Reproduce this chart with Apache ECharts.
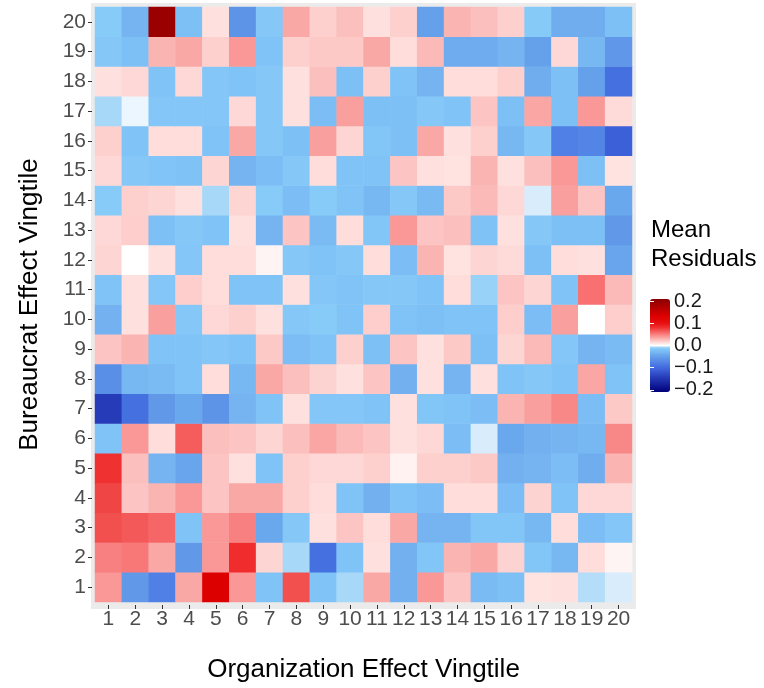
<!DOCTYPE html>
<html>
<head>
<meta charset="utf-8">
<script src="https://cdn.jsdelivr.net/npm/echarts@6/dist/echarts.min.js"></script>
<style>
  html, body { margin: 0; padding: 0; background: #ffffff; }
  #chart { width: 764px; height: 688px; }
</style>
</head>
<body>
<div id="chart"></div>
<script>
// Vingtile labels for both axes
const organizationVingtiles = ['1','2','3','4','5','6','7','8','9','10','11','12','13','14','15','16','17','18','19','20'];
const bureaucratVingtiles = ['1','2','3','4','5','6','7','8','9','10','11','12','13','14','15','16','17','18','19','20'];

// Mean residuals: one row per bureaucrat vingtile (1..20), one value per organization vingtile (1..20)
const row01 = [0.041,-0.056,-0.080,0.034,0.132,0.041,-0.019,0.069,-0.019,-0.008,0.034,-0.036,0.041,0.023,-0.027,-0.022,0.011,0.012,-0.007,-0.004];
const row02 = [0.050,0.053,0.034,-0.056,0.041,0.083,0.016,-0.008,-0.095,-0.019,0.012,-0.036,-0.017,0.030,0.034,0.017,-0.017,-0.030,0.013,0.004];
const row03 = [0.069,0.065,0.060,-0.019,0.041,0.050,-0.042,-0.014,0.012,0.023,0.013,0.034,-0.033,-0.033,-0.017,-0.017,-0.030,0.013,-0.025,-0.016];
const row04 = [0.073,0.023,0.030,0.041,0.023,0.034,0.034,0.018,0.013,-0.019,-0.036,-0.019,-0.025,0.013,0.013,-0.025,0.017,-0.019,0.015,0.015];
const row05 = [0.081,0.025,-0.033,-0.045,0.023,0.012,-0.019,0.018,0.015,0.015,0.018,0.005,0.018,0.018,0.021,-0.036,-0.033,-0.025,-0.038,0.030];
const row06 = [-0.019,0.041,0.013,0.064,0.025,0.023,0.016,0.025,0.035,0.028,0.023,0.012,0.015,-0.025,-0.004,-0.042,-0.036,-0.033,-0.030,0.047];
const row07 = [-0.145,-0.095,-0.056,-0.042,-0.060,-0.033,-0.019,0.012,-0.016,-0.016,-0.019,0.012,-0.017,-0.019,-0.025,0.030,0.038,0.047,-0.025,0.021];
const row08 = [-0.065,-0.030,-0.027,-0.019,0.013,-0.030,0.034,0.025,0.017,0.012,0.023,-0.036,0.012,-0.033,0.012,-0.019,-0.014,-0.019,0.035,-0.019];
const row09 = [0.023,0.030,-0.019,-0.019,-0.016,-0.019,0.021,-0.025,-0.019,0.018,-0.022,0.023,0.012,0.021,-0.022,0.016,0.028,-0.016,-0.033,-0.027];
const row10 = [-0.035,0.012,0.038,-0.014,0.015,0.018,0.012,-0.014,-0.012,-0.019,0.019,-0.019,-0.022,-0.019,-0.019,0.019,-0.025,0.038,0.000,0.019];
const row11 = [-0.019,0.012,-0.016,0.019,0.013,-0.019,-0.019,0.012,-0.016,-0.019,-0.014,-0.014,-0.019,0.013,-0.010,0.023,0.016,-0.019,0.056,0.028];
const row12 = [0.016,0.000,0.012,-0.016,0.013,0.013,0.004,-0.014,-0.019,-0.014,0.013,-0.025,0.030,0.011,0.016,0.014,-0.022,0.013,0.012,-0.045];
const row13 = [0.015,0.019,-0.022,-0.014,-0.019,0.012,-0.033,0.023,-0.027,0.013,-0.017,0.041,0.023,0.025,-0.020,0.012,-0.014,-0.022,-0.022,-0.056];
const row14 = [-0.012,0.018,0.016,0.012,-0.008,0.016,-0.012,-0.025,-0.012,-0.019,-0.030,-0.014,-0.028,0.021,0.028,0.015,-0.004,0.038,0.023,-0.042];
const row15 = [0.015,-0.014,-0.018,-0.020,0.016,-0.033,-0.025,-0.014,0.013,-0.019,-0.019,0.023,0.012,0.011,0.030,0.012,0.025,0.041,-0.022,0.011];
const row16 = [0.018,-0.019,0.013,0.013,-0.019,0.034,-0.014,-0.022,0.038,0.016,-0.017,-0.022,0.034,0.012,0.018,-0.030,-0.014,-0.080,-0.075,-0.110];
const row17 = [-0.008,-0.002,-0.016,-0.016,-0.016,0.015,-0.014,0.012,-0.025,0.038,-0.022,-0.022,-0.014,-0.019,0.023,-0.022,0.035,-0.022,0.041,0.014];
const row18 = [0.012,0.015,-0.019,0.015,-0.016,-0.019,-0.014,0.012,0.025,-0.022,0.018,-0.019,-0.033,0.013,0.013,0.018,-0.038,-0.022,-0.050,-0.095];
const row19 = [-0.014,-0.022,0.030,0.034,0.018,0.041,-0.019,0.018,0.021,0.021,0.034,0.013,0.028,-0.039,-0.039,-0.033,-0.050,0.015,-0.030,-0.057];
const row20 = [-0.012,-0.033,0.195,-0.022,0.012,-0.060,-0.014,0.034,0.018,0.025,0.012,0.018,-0.050,0.030,0.025,0.018,-0.013,-0.038,-0.038,-0.022];
const meanResiduals = [row01,row02,row03,row04,row05,row06,row07,row08,row09,row10,
                       row11,row12,row13,row14,row15,row16,row17,row18,row19,row20];

// Colour bar range and tick labels
const scaleMin = -0.21;
const scaleMax = 0.21;
const legendTicks = [-0.2, -0.1, 0.0, 0.1, 0.2];

// Diverging palette: navy -> royal blue -> light sky blue -> white -> pink -> red -> dark red
const colorStops = [
  [-0.210, '#00007a'], [-0.145, '#263bb8'], [-0.110, '#3c60d8'], [-0.095, '#4570e0'],
  [-0.080, '#5080e5'], [-0.065, '#5a8fe8'], [-0.056, '#6298e8'], [-0.050, '#65a0ea'],
  [-0.042, '#6aa8ee'], [-0.036, '#72b0f0'], [-0.030, '#78b8f2'], [-0.022, '#7dc0f5'],
  [-0.014, '#85c8f8'], [-0.012, '#87ccf8'], [-0.008, '#a8d8f8'], [-0.004, '#d8ecfc'],
  [0.000, '#ffffff'], [0.004, '#fff4f4'], [0.012, '#fee0de'], [0.018, '#fdd0ce'],
  [0.023, '#fcc4c2'], [0.030, '#fab4b2'], [0.034, '#faa8a6'], [0.041, '#f99896'],
  [0.050, '#f88080'], [0.056, '#f87070'], [0.064, '#f55c5c'], [0.073, '#f04545'],
  [0.083, '#f02c2c'], [0.100, '#e81010'], [0.132, '#dd0000'], [0.195, '#9b0000'],
  [0.210, '#8b0000']
];

function hexToRgb(h) {
  return [parseInt(h.slice(1,3),16), parseInt(h.slice(3,5),16), parseInt(h.slice(5,7),16)];
}
function colorAt(v) {
  if (v <= colorStops[0][0]) return colorStops[0][1];
  for (let i = 1; i < colorStops.length; i++) {
    const [v1, c1] = colorStops[i];
    if (v <= v1 + 1e-9) {
      const [v0, c0] = colorStops[i-1];
      const t = (v - v0) / (v1 - v0);
      const a = hexToRgb(c0), b = hexToRgb(c1);
      const m = a.map((x, k) => Math.round(x + (b[k] - x) * t));
      return 'rgb(' + m.join(',') + ')';
    }
  }
  return colorStops[colorStops.length-1][1];
}
// Dense, evenly spaced palette for the continuous visual map
const palette = [];
const paletteSteps = 420;
for (let i = 0; i <= paletteSteps; i++) {
  palette.push(colorAt(scaleMin + (scaleMax - scaleMin) * i / paletteSteps));
}

const heatData = [];
meanResiduals.forEach((row, b) => {
  row.forEach((v, o) => heatData.push([o, b, v]));
});

const FONT = "'Liberation Sans', Arial, Helvetica, sans-serif";
const chart = echarts.init(document.getElementById('chart'), null, { renderer: 'canvas' });

function fmtTick(v) {
  const s = Math.abs(v).toFixed(1);
  return v < -1e-9 ? '\u2212' + s : s;
}

chart.setOption({
  animation: false,
  backgroundColor: '#ffffff',
  textStyle: { fontFamily: FONT },
  title: {
    text: 'Mean\nResiduals',
    left: 651, top: 216,
    padding: 0,
    textStyle: { fontFamily: FONT, fontSize: 24, fontWeight: 'normal', color: '#000000', lineHeight: 29 }
  },
  graphic: {
    elements: [{
      type: 'rect', z: -10, silent: true,
      shape: { x: 91, y: 3, width: 545, height: 606 },
      style: { fill: '#ebebeb' }
    }]
  },
  grid: [
    { left: 95, top: 7, width: 537, height: 598, containLabel: false },
    { left: 650, top: 299, width: 20, height: 93, containLabel: false }
  ],
  xAxis: [
    {
      type: 'category', gridIndex: 0, data: organizationVingtiles,
      position: 'bottom', offset: 3,
      axisLine: { show: false },
      axisTick: { show: true, alignWithLabel: true, length: 4, lineStyle: { color: '#333333', width: 1 } },
      axisLabel: { color: '#4d4d4d', fontSize: 21, margin: 4, interval: 0, fontFamily: FONT },
      splitLine: { show: false },
      name: 'Organization Effect Vingtile', nameLocation: 'middle', nameGap: 52,
      nameTextStyle: { color: '#000000', fontSize: 26, fontFamily: FONT }
    },
    { type: 'value', gridIndex: 1, show: false, min: 0, max: 1 }
  ],
  yAxis: [
    {
      type: 'category', gridIndex: 0, data: bureaucratVingtiles,
      position: 'left', offset: 3,
      axisLine: { show: false },
      axisTick: { show: true, alignWithLabel: true, length: 4, lineStyle: { color: '#333333', width: 1 } },
      axisLabel: { color: '#4d4d4d', fontSize: 21, margin: 6, interval: 0, fontFamily: FONT },
      splitLine: { show: false },
      name: 'Bureaucrat Effect Vingtile', nameLocation: 'middle', nameGap: 49, nameRotate: 90,
      nameTextStyle: { color: '#000000', fontSize: 26, fontFamily: FONT }
    },
    {
      type: 'value', gridIndex: 1, min: scaleMin, max: scaleMax, position: 'right', z: 10,
      axisLine: { show: false },
      splitLine: { show: false },
      axisTick: { show: true, inside: true, length: 4, customValues: legendTicks, lineStyle: { color: '#ffffff', width: 1 } },
      axisLabel: { show: true, customValues: legendTicks, formatter: fmtTick, margin: 4, color: '#1a1a1a', fontSize: 20, fontFamily: FONT }
    },
    {
      type: 'value', gridIndex: 1, min: scaleMin, max: scaleMax, position: 'left', z: 10,
      axisLine: { show: false },
      splitLine: { show: false },
      axisTick: { show: true, inside: true, length: 4, customValues: legendTicks, lineStyle: { color: '#ffffff', width: 1 } },
      axisLabel: { show: false }
    }
  ],
  visualMap: {
    type: 'continuous',
    seriesIndex: 0,
    min: scaleMin, max: scaleMax,
    calculable: false,
    orient: 'vertical',
    left: 650, top: 299,
    itemWidth: 20, itemHeight: 93,
    padding: 0,
    text: null,
    inRange: { color: palette }
  },
  series: [
    {
      type: 'heatmap',
      xAxisIndex: 0, yAxisIndex: 0,
      data: heatData,
      progressive: 0,
      emphasis: { disabled: true },
      itemStyle: { borderWidth: 0 }
    },
    { type: 'scatter', xAxisIndex: 1, yAxisIndex: 1, data: [], silent: true }
  ]
});
</script>
</body>
</html>
